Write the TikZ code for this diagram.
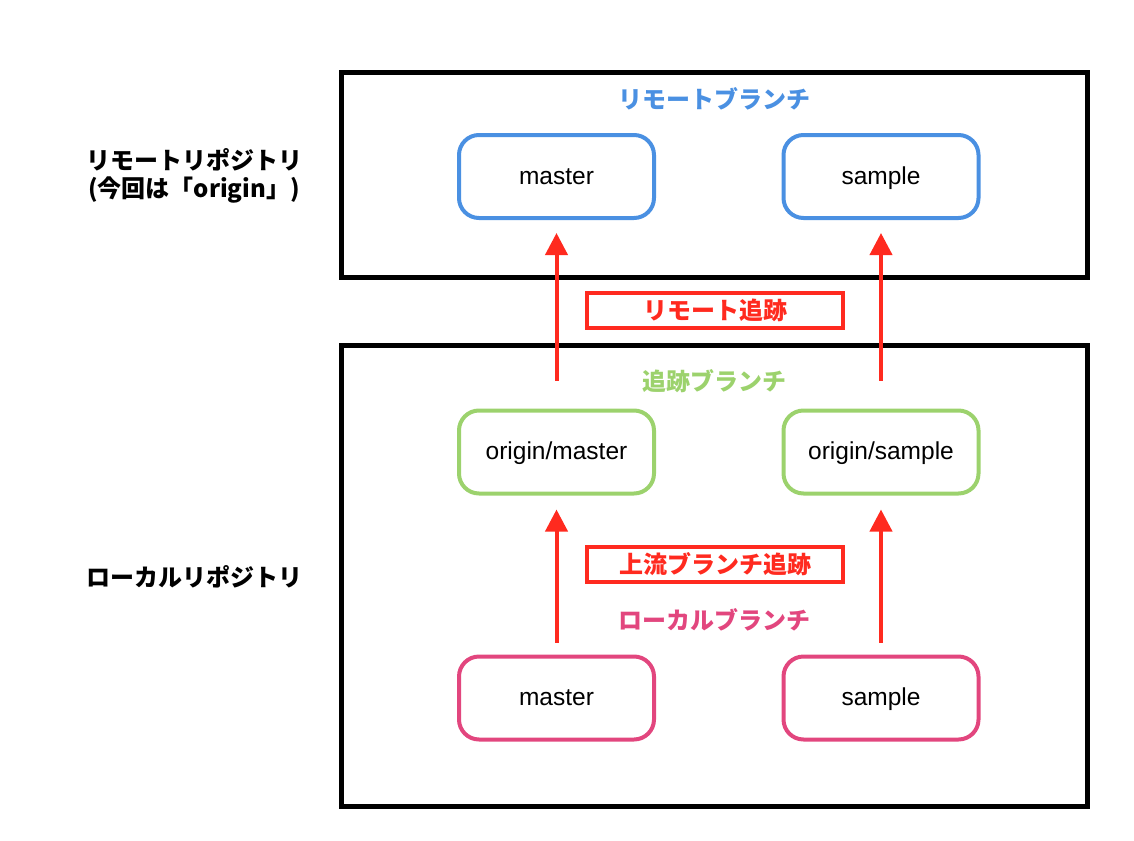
\documentclass[tikz,border=0pt]{standalone}
\usepackage{fontspec}
\setmainfont{Liberation Sans}
\newfontfamily\jp{Noto Sans CJK JP}
\usetikzlibrary{arrows.meta, positioning}
\definecolor{remoteblue}{HTML}{4A90E2}
\definecolor{trackgreen}{HTML}{9CD26D}
\definecolor{localpink}{HTML}{E2467E}
\definecolor{trackred}{HTML}{FF2A1F}
\tikzset{
  branch/.style={draw, line width=4pt, rounded corners=20pt, minimum width=195pt,
    minimum height=83pt, text=black, text height=20.5pt, text depth=5pt,
    font=\fontsize{24.5}{28}\selectfont},
  repo/.style={draw, line width=5pt, inner sep=0pt},
  jplabel/.style={font=\jp\bfseries\fontsize{24}{29}\selectfont},
  tag/.style={draw=trackred, text=trackred, line width=4pt, minimum width=256pt,
    minimum height=35pt, inner sep=0pt, jplabel},
  track/.style={draw=trackred, line width=4pt, -{Triangle[length=22pt, width=22pt]}}
}
\begin{document}
\begin{tikzpicture}[x=1pt, y=-1pt]
  \useasboundingbox (0,0) rectangle (1134,840);
  %tikz  リポジトリ
  \node[repo, minimum width=746pt, minimum height=204pt] (remote) at (714,175) {};
  \node[repo, minimum width=746pt, minimum height=461pt] (local) at (714,575.5) {};
  \node[jplabel] (remotename) at (194,160) {リモートリポジトリ};
  \node[jplabel] (remotenote) at (194,190) {(今回は「origin」)};
  \node[jplabel] (localname) at (194,577) {ローカルリポジトリ};
  % ブランチ
  \node[jplabel, remoteblue] (rlabel) at (714,99) {リモートブランチ};
  \node[jplabel, trackgreen] (olabel) at (714,381) {追跡ブランチ};
  \node[jplabel, localpink] (llabel) at (714,620) {ローカルブランチ};
  \foreach \b/\x in {master/556.5, sample/881}{
    \node[branch, draw=remoteblue] (r\b) at (\x,176.5) {\b};
    \node[branch, draw=trackgreen] (o\b) at (\x,452) {origin/\b};
    \node[branch, draw=localpink] (l\b) at (\x,698) {\b};
    \draw[track, shorten <=28pt, shorten >=13pt] (o\b) -- (r\b);
    \draw[track, shorten <=12pt, shorten >=14pt] (l\b) -- (o\b);
  }
  \node[tag] (remotetrack) at (715,310.5) {リモート追跡};
  \node[tag] (upstream) at (715,564) {上流ブランチ追跡};
\end{tikzpicture}
\end{document}
